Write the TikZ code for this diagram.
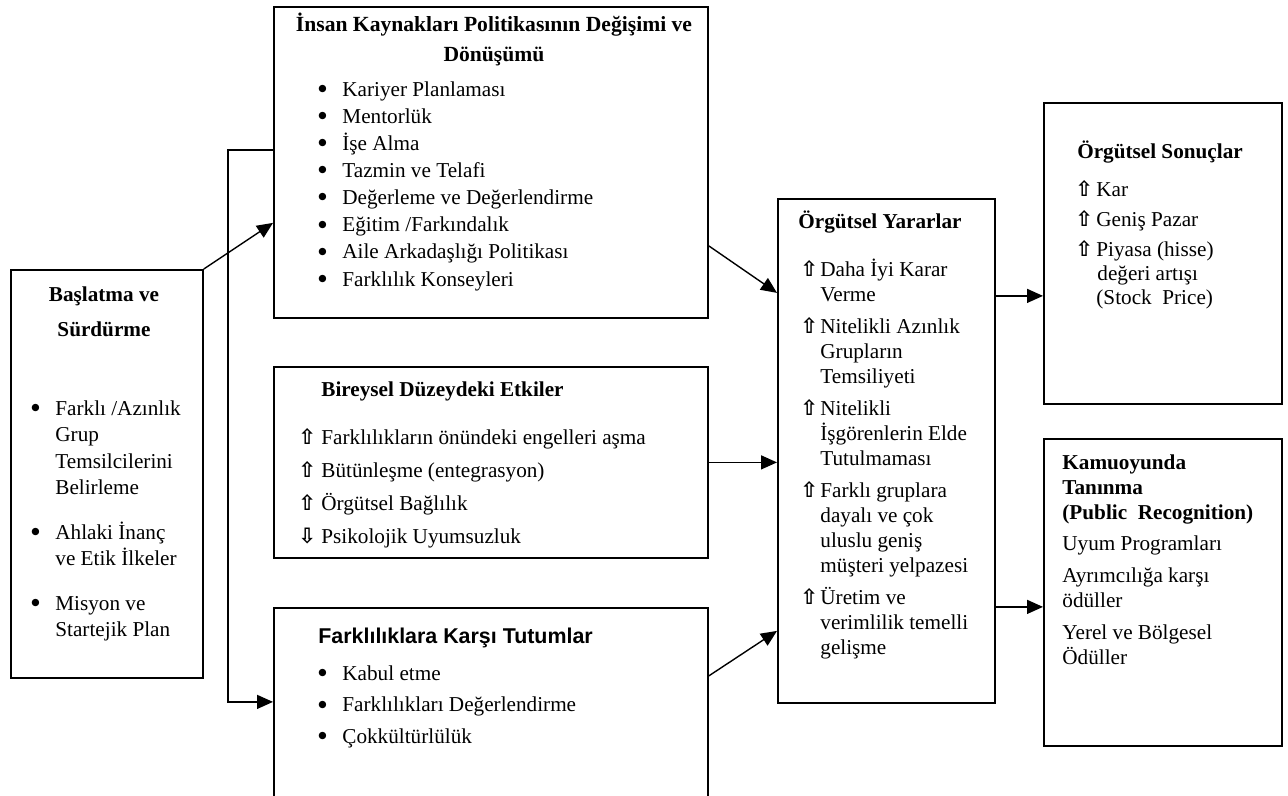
\documentclass[tikz,border=0pt]{standalone}
\usepackage{fontspec}
\setmainfont{Liberation Serif}
\setsansfont{Liberation Sans}
\newfontfamily\okfont{DejaVu Sans}
\usetikzlibrary{arrows.meta}

\newcommand{\dik}{\rule{0pt}{10pt}}
\newcommand{\madde}[1][12pt]{\makebox[#1][l]{\raisebox{2.4pt}{\okfont\fontsize{4.8}{5}\selectfont ●}}}
\newcommand{\girinti}[1][12pt]{\hspace*{#1}}
\newcommand{\yukari}[1][9pt]{\makebox[#1][l]{\okfont\bfseries ⇧}}
\newcommand{\asagi}[1][9pt]{\makebox[#1][l]{\okfont\bfseries ⇩}}

\begin{document}
\begin{tikzpicture}[x=0.5pt,y=-0.5pt,
  kutu/.style={draw,line width=0.9pt,inner sep=0pt,anchor=north west},
  liste/.style={inner sep=0pt,anchor=north west,align=left,font=\fontsize{10.6}{#1}\selectfont},
  liste/.default=13.25pt,
  baslik/.style={inner sep=0pt,anchor=north west,align=left,font=\fontsize{10.6}{#1}\selectfont\bfseries},
  baslik/.default=13.25pt,
  okcizgi/.style={line width=0.7pt,-{Triangle[length=8pt,width=7pt]}}]
  \useasboundingbox (0,0) rectangle (1288,796);

  % kutular
  \node[kutu,minimum width=96pt,minimum height=204pt] (basla) at (10,269) {};
  \node[kutu,minimum width=217pt,minimum height=155.5pt] (ik) at (273,6) {};
  \node[kutu,minimum width=217pt,minimum height=95.5pt] (birey) at (273,366) {};
  \node[kutu,minimum width=217pt,minimum height=102.5pt] (tutum) at (273,607) {};
  \node[kutu,minimum width=108.5pt,minimum height=252pt] (yarar) at (777,198) {};
  \node[kutu,minimum width=119pt,minimum height=150.5pt] (sonuc) at (1043,102) {};
  \node[kutu,minimum width=119pt,minimum height=153.5pt] (kamu) at (1043,438) {};

  % baslatma
  \node[baslik,anchor=north,align=center] (baslaB) at (104,281) {\dik Başlatma ve\\[4.25pt]Sürdürme};
  \node[liste] (baslaL) at (31,395) {\dik\madde Farklı /Azınlık\\ \girinti Grup\\ \girinti Temsilcilerini\\ \girinti Belirleme\\[9pt]
    \madde Ahlaki İnanç\\ \girinti ve Etik İlkeler\\[9pt]
    \madde Misyon ve\\ \girinti Startejik Plan};

  % insan kaynaklari
  \node[baslik,anchor=north,align=center,font=\fontsize{10.8}{13.25}\selectfont\bfseries] (ikB) at (494,11) {\dik İnsan Kaynakları Politikasının Değişimi ve\\[1.75pt]Dönüşümü};
  \node[liste=13.55pt] (ikL) at (318,76) {\dik\madde Kariyer Planlaması\\ \madde Mentorlük\\ \madde İşe Alma\\ \madde Tazmin ve Telafi\\
    \madde Değerleme ve Değerlendirme\\ \madde Eğitim /Farkındalık\\ \madde Aile Arkadaşlığı Politikası\\ \madde Farklılık Konseyleri};

  % bireysel
  \node[baslik] (bireyB) at (321,376) {\dik Bireysel Düzeydeki Etkiler};
  \node[liste=16.5pt] (bireyL) at (298,424) {\dik\yukari[11.5pt]Farklılıkların önündeki engelleri aşma\\ \yukari[11.5pt]Bütünleşme (entegrasyon)\\
    \yukari[11.5pt]Örgütsel Bağlılık\\ \asagi[11.5pt]Psikolojik Uyumsuzluk};

  % tutumlar
  \node[baslik,font=\sffamily\bfseries\fontsize{10.7}{13}\selectfont] (tutumB) at (318,623) {\dik Farklılıklara Karşı Tutumlar};
  \node[liste=15.75pt] (tutumL) at (318,660) {\dik\madde Kabul etme\\ \madde Farklılıkları Değerlendirme\\ \madde Çokkültürlülük};

  % yararlar
  \node[baslik] (yararB) at (798,208) {\dik Örgütsel Yararlar};
  \node[liste=12.5pt] (yararL) at (800,256) {\dik\yukari[10pt]Daha İyi Karar\\ \girinti[10pt]Verme\\[3.5pt]
    \yukari[10pt]Nitelikli Azınlık\\ \girinti[10pt]Grupların\\ \girinti[10pt]Temsiliyeti\\[3.5pt]
    \yukari[10pt]Nitelikli\\ \girinti[10pt]İşgörenlerin Elde\\ \girinti[10pt]Tutulmaması\\[3.5pt]
    \yukari[10pt]Farklı gruplara\\ \girinti[10pt]dayalı ve çok\\ \girinti[10pt]uluslu geniş\\ \girinti[10pt]müşteri yelpazesi\\[3.5pt]
    \yukari[10pt]Üretim ve\\ \girinti[10pt]verimlilik temelli\\ \girinti[10pt]gelişme};

  % sonuclar
  \node[baslik,anchor=north,align=center] (sonucB) at (1160,138) {\dik Örgütsel Sonuçlar};
  \node[liste=12pt] (sonucL) at (1075,176) {\dik\yukari[10.5pt]Kar\\[3pt] \yukari[10.5pt]Geniş Pazar\\[3pt] \yukari[10.5pt]Piyasa (hisse)\\
    \girinti[11pt]değeri artışı\\ \girinti[10.5pt](Stock\ \ Price)};

  % kamuoyu
  \node[baslik=12.5pt] (kamuB) at (1062,449) {\dik Kamuoyunda\\ Tanınma\\ (Public\ \ Recognition)};
  \node[liste=12.5pt] (kamuL) at (1062,530) {\dik Uyum Programları\\[3.5pt] Ayrımcılığa karşı\\ ödüller\\[3.5pt] Yerel ve Bölgesel\\ Ödüller};

  % oklar
  \draw[okcizgi] (basla.north east) -- ([yshift=-30.25pt]ik.west);
  \draw[okcizgi] ([yshift=6.25pt]ik.west) -- ++(-45,0) |- ([yshift=4.25pt]tutum.west);
  \draw[okcizgi] ([yshift=-41.75pt]ik.east) -- ([yshift=79pt]yarar.west);
  \draw[okcizgi] (birey.east) -- (birey.east -| yarar.west);
  \draw[okcizgi] ([yshift=17.25pt]tutum.east) -- ([yshift=-90pt]yarar.west);
  \draw[okcizgi] ([yshift=-21.25pt]sonuc.west -| yarar.east) -- ([yshift=-21.25pt]sonuc.west);
  \draw[okcizgi] ([yshift=-7.25pt]kamu.west -| yarar.east) -- ([yshift=-7.25pt]kamu.west);
\end{tikzpicture}
\end{document}
